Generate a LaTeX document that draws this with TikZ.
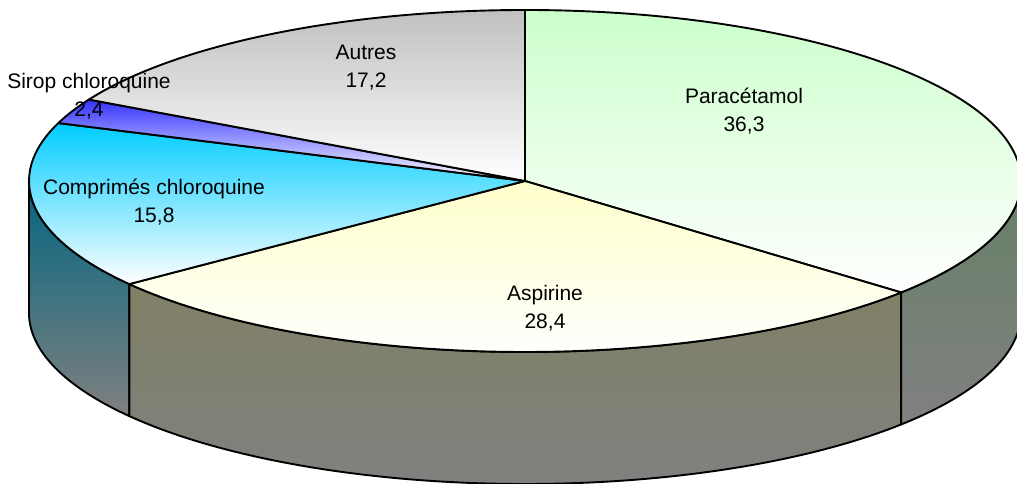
\documentclass[tikz,border=0pt]{standalone}
\usepackage{fontspec}
\setmainfont{Liberation Sans}
\usetikzlibrary{calc}
\definecolor{paraTop}{RGB}{204,255,204}
\definecolor{aspiTop}{RGB}{255,255,204}
\definecolor{compTop}{RGB}{0,204,255}
\definecolor{siropTop}{RGB}{51,51,255}
\definecolor{autresTop}{RGB}{192,192,192}
\definecolor{paraSide}{RGB}{102,128,102}
\definecolor{aspiSide}{RGB}{128,128,102}
\definecolor{compSide}{RGB}{0,102,128}
\definecolor{sideBottom}{RGB}{128,128,128}
\newcommand{\rx}{496}
\newcommand{\ry}{171}
\newcommand{\depth}{132}
% top face of a slice: start angle, end angle, colour
\newcommand{\drawSlice}[3]{
	\draw[sliceline, top color=#3, bottom color=white] (C) -- ($(C)+(#1:\rx pt and \ry pt)$) arc[start angle=#1, end angle=#2, x radius=\rx pt, y radius=\ry pt] -- cycle ;
}
% side of a slice: start angle, end angle, colour
\newcommand{\drawSide}[3]{
	\draw[sliceline, top color=#3, bottom color=sideBottom] ($(C)+(#1:\rx pt and \ry pt)$) arc[start angle=#1, end angle=#2, x radius=\rx pt, y radius=\ry pt] -- ++(0,-\depth pt) arc[start angle=#2, end angle=#1, x radius=\rx pt, y radius=\ry pt] -- cycle ;
}

\begin{document}
\begin{tikzpicture}[x=1pt, y=1pt,
	sliceline/.style={line width=1.9pt, line join=round},
	pielabel/.style={align=center, font=\fontsize{21}{28}\selectfont}]
%%%%%%%%%%%%%%%%%%
\useasboundingbox (0,0) rectangle (1017,484);
\coordinate (C) at (525,303);

%Sides
\drawSide{180}{217.08}{compSide}
\drawSide{217.08}{319.32}{aspiSide}
\drawSide{319.32}{360}{paraSide}

%Top faces
\drawSlice{90}{-40.68}{paraTop}
\drawSlice{-40.68}{-142.92}{aspiTop}
\drawSlice{217.08}{160.2}{compTop}
\drawSlice{160.2}{151.56}{siropTop}
\drawSlice{151.56}{90}{autresTop}

%Labels
\node[pielabel] (autres) at (366,416) {Autres\\17,2};
\node[pielabel] (sirop) at (89,388) {Sirop chloroquine\\2,4};
\node[pielabel] (comp) at (154,282) {Comprimés chloroquine\\15,8};
\node[pielabel] (para) at (744,373) {Paracétamol\\36,3};
\node[pielabel] (aspi) at (545,176) {Aspirine\\28,4};
\end{tikzpicture}
\end{document}
